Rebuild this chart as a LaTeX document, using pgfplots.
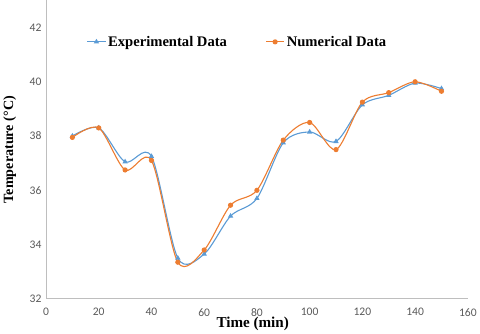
\documentclass[border=0pt]{standalone}
\usepackage{fontspec}
\setmainfont{Liberation Serif}
\newfontfamily\carlito{Carlito}
\usepackage{pgfplots}
\pgfplotsset{compat=1.18}
\definecolor{expblue}{RGB}{91,155,213}
\definecolor{numorange}{RGB}{237,125,49}
\definecolor{axgray}{RGB}{190,190,190}
\definecolor{tickgray}{RGB}{89,89,89}

\begin{document}
\begin{tikzpicture}
\begin{axis}[
    scale only axis,
    width=417bp, height=295bp,
    xmin=0, xmax=160, ymin=32, ymax=43,
    xtick={0,20,...,160}, ytick={32,34,...,42},
    axis x line*=bottom, axis y line*=left,
    axis line style={axgray, line width=0.8pt},
    major tick length=0pt,
    ticklabel style={font=\carlito\fontsize{11.5}{13}\selectfont, text=tickgray},
    xticklabel style={yshift=-6bp},
    yticklabel style={xshift=-1bp},
    /pgf/number format/assume math mode=true,
    xlabel={\textbf{Time (min)}},
    ylabel={\textbf{Temperature (°C)}},
    xlabel style={font=\fontsize{15}{17}\selectfont, at={(axis description cs:0.49,0)}, anchor=north, yshift=-14bp},
    ylabel style={font=\fontsize{14}{16}\selectfont, at={(axis description cs:0,0.5)}, anchor=south, yshift=26bp},
    legend columns=2,
    legend style={draw=none, fill=none, at={(0.454,0.861)}, anchor=center,
        font=\bfseries\fontsize{14.5}{16}\selectfont,
        /tikz/every even column/.append style={column sep=36bp}},
    legend image code/.code={
        \draw[#1, mark repeat=2, mark phase=2] plot coordinates {(0bp,0bp) (9bp,0bp) (18bp,0bp)};},
]
\addplot[expblue, line width=1.1pt, smooth, mark=triangle*, mark size=2pt] coordinates {
    (10,38.0) (20,38.3) (30,37.05) (40,37.25) (50,33.5) (60,33.65) (70,35.05)
    (80,35.7) (90,37.75) (100,38.15) (110,37.8) (120,39.15) (130,39.5)
    (140,39.95) (150,39.75)
};
\addlegendentry{Experimental Data}
\addplot[numorange, line width=1.1pt, smooth, mark=*, mark size=2pt] coordinates {
    (10,37.95) (20,38.3) (30,36.75) (40,37.1) (50,33.35) (60,33.8) (70,35.45)
    (80,36.0) (90,37.85) (100,38.5) (110,37.5) (120,39.25) (130,39.6)
    (140,40.0) (150,39.65)
};
\addlegendentry{Numerical Data}
\path (axis cs:160,32) ++(16bp,0) coordinate (r);
\path (axis cs:160,43) ++(0,2bp) coordinate (t);
\end{axis}
\useasboundingbox (current bounding box.south west) rectangle (current bounding box.north east);
\path (r) (t);
\end{tikzpicture}
\end{document}
